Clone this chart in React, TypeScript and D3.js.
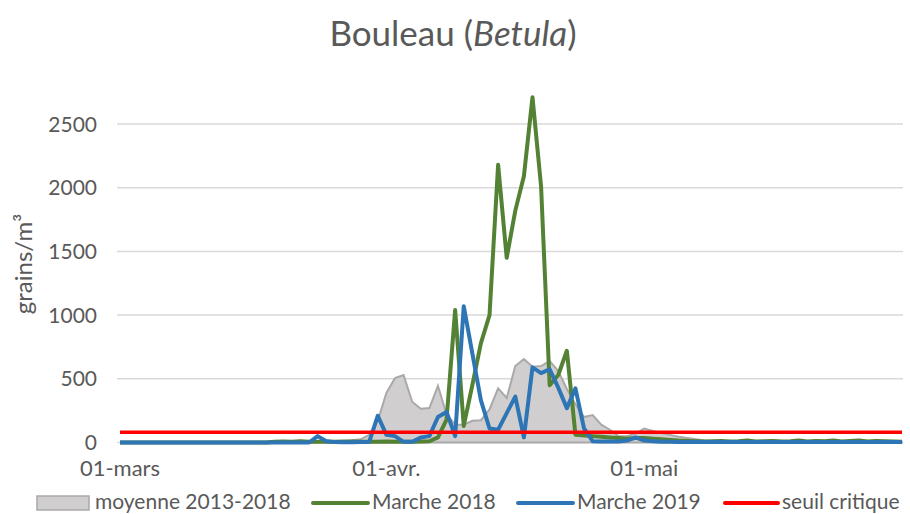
import React from "react";
import * as d3 from "d3";

const START = new Date(2019, 2, 1);
const dates: Date[] = d3.timeDay.range(START, new Date(2019, 5, 1));

const moyenne: number[] = [
  0, 0, 0, 0, 0, 0, 0, 0, 0, 0, 0, 0, 0, 0, 0, 0, 0,
  3, 5, 8, 5, 8, 10, 12, 10, 12, 15, 18, 25, 60, 170, 390, 505, 530, 320, 265, 270, 445, 220, 140,
  140, 170, 175, 260, 425, 350, 600, 655, 595, 600, 640, 560, 420, 300, 200, 215, 140, 100, 50, 50,
  70, 110, 90, 75, 60, 45, 35, 25, 15, 10, 8, 8, 10, 8, 6, 8, 10, 8, 6, 5,
  6, 8, 6, 5, 4, 5, 6, 4, 3, 4, 3, 2,
];

const marche2018: number[] = [
  0, 0, 0, 0, 0, 0, 0, 0, 0, 0, 0, 0, 0, 0, 0, 0, 0, 0,
  5, 8, 5, 10, 5, 5, 8, 5, 5, 8, 5, 5, 5, 8, 5, 5, 5, 8, 10, 40, 180, 1040,
  130, 450, 780, 1000, 2180, 1450, 1820, 2090, 2710, 2010, 450, 530, 720, 60, 55, 50, 45, 40, 35, 30,
  35, 35, 30, 25, 20, 15, 12, 10, 8, 10, 12, 8, 10, 15, 8, 10, 12, 8, 10, 15,
  8, 12, 10, 15, 8, 12, 15, 8, 12, 10, 8, 5,
];

const marche2019: number[] = [
  0, 0, 0, 0, 0, 0, 0, 0, 0, 0, 0, 0, 0, 0, 0, 0, 0, 0, 0, 0, 0, 0, 0,
  50, 10, 3, 2, 2, 3, 5, 210, 60, 50, 5, 5, 40, 50, 200, 240, 50,
  1070, 700, 330, 110, 100, 230, 360, 40, 590, 545, 575, 430, 270, 425, 110, 10, 8, 8, 8, 15,
  40, 15, 10, 5, 5, 3, 3, 3, 3, 3, 3, 3, 3, 3, 3, 3, 3, 3, 3, 3,
  3, 3, 3, 3, 3, 3, 3, 3, 3, 3, 3, 3,
];

const SEUIL = 80;
const yTicks: number[] = [0, 500, 1000, 1500, 2000, 2500];
const xTickDates: Date[] = [new Date(2019, 2, 1), new Date(2019, 3, 1), new Date(2019, 4, 1)];
const xTickLabels: string[] = ["01-mars", "01-avr.", "01-mai"];
const legendLabels: string[] = ["moyenne 2013-2018", "Marche 2018", "Marche 2019", "seuil critique"];

const TXT = "#595959";
const FONT = "Lato, 'Open Sans', sans-serif";
const C_GRAY_FILL = "#d0cece";
const C_GRAY_STROKE = "#a9a9a9";
const C_GREEN = "#548235";
const C_BLUE = "#2e75b6";
const C_RED = "#ff0000";

export default function App() {
  const W = 910, H = 514;
  const x = d3.scaleTime().domain([dates[0], dates[dates.length - 1]]).range([120, 902]);
  const y = d3.scaleLinear().domain([0, 2500]).range([442.5, 124]);

  const idx = d3.range(dates.length);
  const area = d3.area<number>().x((i) => x(dates[i])).y0(y(0)).y1((i) => y(moyenne[i]));
  const lineOf = (arr: number[]) => d3.line<number>().x((i) => x(dates[i])).y((i) => y(arr[i]))(idx) || "";

  return (
    <div style={{ position: "absolute", left: 0, top: 0 }}>
      <svg width={W} height={H} style={{ display: "block", background: "#fff" }}>
        <text x={453} y={46} textAnchor="middle" fontFamily={FONT} fontSize={35} fill={TXT}>
          Bouleau (<tspan fontStyle="italic">Betula</tspan>)
        </text>

        {yTicks.map((t) => (
          <g key={t}>
            <line x1={117} x2={903} y1={y(t)} y2={y(t)} stroke="#d9d9d9" strokeWidth={1.5} />
            <text x={97} y={y(t) + 7.5} textAnchor="end" fontFamily={FONT} fontSize={21} fill={TXT}>
              {t}
            </text>
          </g>
        ))}

        <text
          transform={`translate(32,264) rotate(-90)`}
          textAnchor="middle"
          fontFamily={FONT}
          fontSize={24}
          fill={TXT}
        >
          grains/m³
        </text>

        {xTickDates.map((d, k) => (
          <text key={k} x={x(d)} y={476} textAnchor="middle" fontFamily={FONT} fontSize={22} fill={TXT}>
            {xTickLabels[k]}
          </text>
        ))}

        <path d={area(idx) || ""} fill={C_GRAY_FILL} stroke={C_GRAY_STROKE} strokeWidth={2} />
        <path d={lineOf(marche2018)} fill="none" stroke={C_GREEN} strokeWidth={4} strokeLinejoin="round" />
        <path d={lineOf(marche2019)} fill="none" stroke={C_BLUE} strokeWidth={4} strokeLinejoin="round" />
        <line x1={x(dates[0])} x2={x(dates[dates.length - 1])} y1={y(SEUIL)} y2={y(SEUIL)} stroke={C_RED} strokeWidth={3.5} />

        <g fontFamily={FONT} fontSize={21} fill={TXT}>
          <rect x={37} y={496} width={52} height={14} fill={C_GRAY_FILL} stroke={C_GRAY_STROKE} strokeWidth={1.5} />
          <text x={95} y={508.5}>{legendLabels[0]}</text>
          <line x1={313} x2={368} y1={503} y2={503} stroke={C_GREEN} strokeWidth={4} strokeLinecap="round" />
          <text x={372} y={508.5}>{legendLabels[1]}</text>
          <line x1={518} x2={573} y1={503} y2={503} stroke={C_BLUE} strokeWidth={4} strokeLinecap="round" />
          <text x={577} y={508.5}>{legendLabels[2]}</text>
          <line x1={725} x2={778} y1={503} y2={503} stroke={C_RED} strokeWidth={4} strokeLinecap="round" />
          <text x={782} y={508.5}>{legendLabels[3]}</text>
        </g>
      </svg>
    </div>
  );
}
